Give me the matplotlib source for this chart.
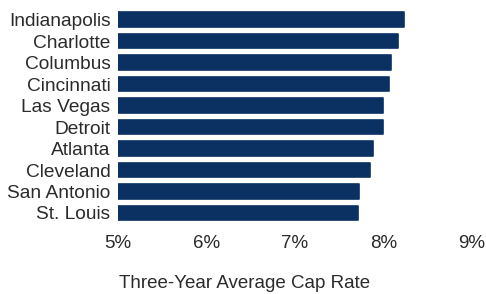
import matplotlib
matplotlib.use("Agg")
import matplotlib.pyplot as plt
from matplotlib.ticker import FuncFormatter

cities = ["Indianapolis", "Charlotte", "Columbus", "Cincinnati", "Las Vegas",
          "Detroit", "Atlanta", "Cleveland", "San Antonio", "St. Louis"]
cap_rates = [8.23, 8.17, 8.08, 8.06, 8.00, 7.99, 7.88, 7.85, 7.72, 7.71]
xticks = [5, 6, 7, 8, 9]

plt.rcParams['font.family'] = ['Liberation Sans', 'DejaVu Sans']

fig = plt.figure(figsize=(4.86, 2.94), dpi=100)
ax = fig.add_axes([0.243, 0.239, 0.728, 0.731])

color = '#0b3163'
text_color = '#2b2b2b'
fs = 13.5
ypos = list(range(len(cities)))
ax.barh(ypos, [v - 5 for v in cap_rates], left=5, height=0.68, color=color,
        edgecolor=color, linewidth=1.2, joinstyle='round')

ax.set_xlim(5, 9)
ax.set_ylim(len(cities) - 0.5, -0.5)
ax.set_yticks(ypos)
ax.set_yticklabels(cities)
ax.set_xticks(xticks)
ax.xaxis.set_major_formatter(FuncFormatter(lambda v, p: f"{v:.0f}%"))

for s in ax.spines.values():
    s.set_visible(False)
ax.tick_params(axis='both', length=0, labelsize=fs, colors=text_color)
ax.tick_params(axis='y', labelsize=13.8, pad=5.5)
ax.tick_params(axis='x', pad=8)
fig.text(0.504, 1 - 284 / 294, "Three-Year Average Cap Rate", fontsize=fs,
         color=text_color, ha='center', va='center')

fig.savefig("out.png", dpi=100)
